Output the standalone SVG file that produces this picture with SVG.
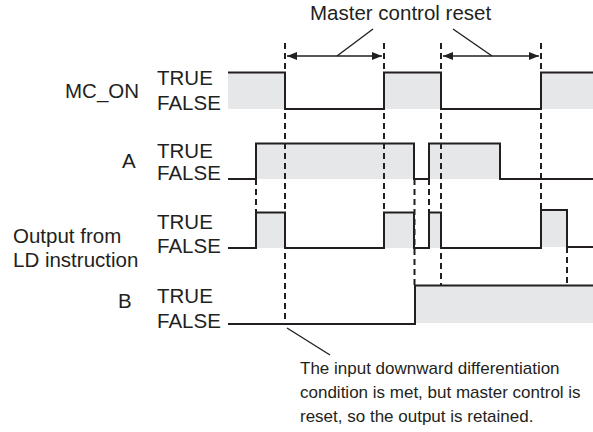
<svg xmlns="http://www.w3.org/2000/svg" width="593" height="432" viewBox="0 0 593 432">
<style>
text{font-family:"Liberation Sans",Arial,sans-serif;fill:#231f20;}
.lbl{font-size:20.5px;}
.ann{font-size:17px;}
.wave{fill:none;stroke:#231f20;stroke-width:2;stroke-linejoin:miter;}
.fill{fill:#e6e7e8;}
.dash{stroke:#231f20;stroke-width:2;stroke-dasharray:6,4;fill:none;}
.lead{stroke:#231f20;stroke-width:1.4;fill:none;}
</style>
<defs>
<marker id="ah" viewBox="0 0 10 8" refX="10" refY="4" markerWidth="10" markerHeight="8" markerUnits="userSpaceOnUse" orient="auto-start-reverse">
<path d="M0,0 L10,4 L0,8 Z" fill="#231f20"/>
</marker>
</defs>
<rect width="593" height="432" fill="#fff"/>

<g id="fills">
<rect class="fill" x="228" y="72.5" width="57" height="36.5"/>
<rect class="fill" x="384" y="72.5" width="57" height="36.5"/>
<rect class="fill" x="541" y="72.5" width="52" height="36.5"/>
<rect class="fill" x="256" y="143.5" width="158" height="35.5"/>
<rect class="fill" x="429" y="143.5" width="71" height="35.5"/>
<rect class="fill" x="256" y="212.5" width="29" height="35.5"/>
<rect class="fill" x="384" y="212.5" width="30" height="35.5"/>
<rect class="fill" x="429" y="212.5" width="12" height="35.5"/>
<rect class="fill" x="541" y="210" width="26" height="37"/>
<rect class="fill" x="415" y="285.5" width="178" height="37.5"/>
</g>

<g id="connectors">
<line class="dash" x1="256" y1="179" x2="256" y2="212.5"/>
<line class="dash" x1="285" y1="43" x2="285" y2="324"/>
<line class="dash" x1="384" y1="43" x2="384" y2="212.5"/>
<line class="dash" x1="414.5" y1="179" x2="414.5" y2="285.5"/>
<line class="dash" x1="429" y1="179" x2="429" y2="212.5"/>
<line class="dash" x1="441" y1="43" x2="441" y2="285.5"/>
<line class="dash" x1="541" y1="43" x2="541" y2="210"/>
<line class="dash" x1="567" y1="247" x2="567" y2="285.5"/>
<line class="lead" x1="287" y1="56" x2="382" y2="56" marker-start="url(#ah)" marker-end="url(#ah)"/>
<line class="lead" x1="443" y1="56" x2="539" y2="56" marker-start="url(#ah)" marker-end="url(#ah)"/>
<line class="lead" x1="373" y1="29" x2="337" y2="56"/>
<line class="lead" x1="453" y1="29" x2="492" y2="56"/>
<line class="lead" x1="287" y1="328" x2="330" y2="355"/>
</g>

<g id="MC_ON">
<text class="lbl" x="65" y="98">MC_ON</text>
<text class="lbl" x="157" y="85">TRUE</text>
<text class="lbl" x="157" y="110">FALSE</text>
<polyline class="wave" points="228,72.5 285,72.5 285,109 384,109 384,72.5 441,72.5 441,109 541,109 541,72.5 593,72.5"/>
</g>

<g id="A">
<text class="lbl" x="122" y="168">A</text>
<text class="lbl" x="157" y="158">TRUE</text>
<text class="lbl" x="157" y="180">FALSE</text>
<polyline class="wave" points="228,179 256,179 256,143.5 414,143.5 414,179 429,179 429,143.5 500,143.5 500,179 593,179"/>
</g>

<g id="LD">
<text class="lbl" x="13" y="243">Output from</text>
<text class="lbl" x="13" y="267">LD instruction</text>
<text class="lbl" x="157" y="229">TRUE</text>
<text class="lbl" x="157" y="253">FALSE</text>
<polyline class="wave" points="228,248 256,248 256,212.5 285,212.5 285,248 384,248 384,212.5 414,212.5 414,248 429,248 429,212.5 441,212.5 441,248 541,248 541,210 567,210 567,247 593,247"/>
</g>

<g id="B">
<text class="lbl" x="118" y="308">B</text>
<text class="lbl" x="157" y="303">TRUE</text>
<text class="lbl" x="157" y="328">FALSE</text>
<polyline class="wave" points="228,324 415,324 415,285.5 593,285.5"/>
</g>

<g id="title">
<text class="lbl" x="310" y="20">Master control reset</text>
</g>

<g id="note">
<text class="ann" x="300" y="374">The input downward differentiation</text>
<text class="ann" x="300" y="398">condition is met, but master control is</text>
<text class="ann" x="300" y="422">reset, so the output is retained.</text>
</g>
</svg>
